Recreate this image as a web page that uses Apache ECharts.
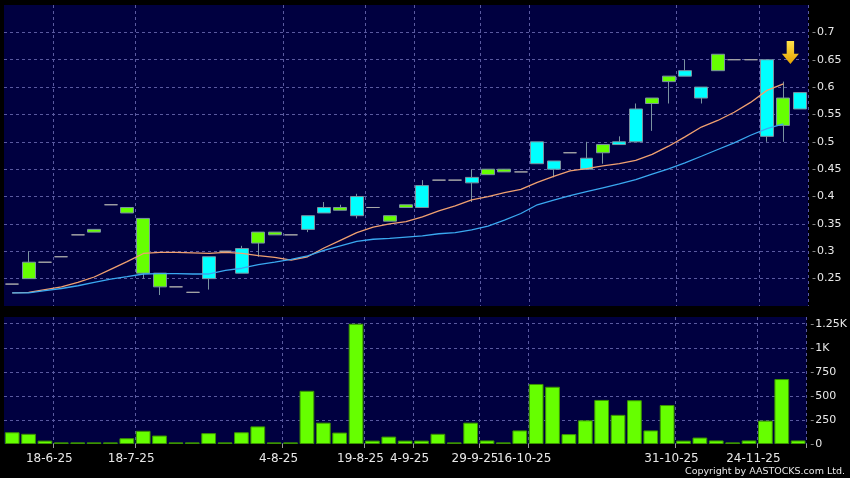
<!DOCTYPE html>
<html>
<head>
<meta charset="utf-8">
<script src="https://cdn.jsdelivr.net/npm/echarts@6/dist/echarts.min.js"></script>
<style>
html,body{margin:0;padding:0;background:#000;}
#chart{width:850px;height:478px;}
</style>
</head>
<body>
<div id="chart"></div>
<script>
// category labels (only some trading days are labelled)
const categories = ['', '', '', '18-6-25', '', '', '', '', '18-7-25', '',
  '', '', '', '', '', '', '', '4-8-25', '', '',
  '', '', '19-8-25', '', '', '4-9-25', '', '', '', '29-9-25',
  '', '', '16-10-25', '', '', '', '', '', '', '',
  '', '31-10-25', '', '', '', '', '24-11-25', '', ''];

const opens  = [0.24,0.28,0.28,0.29,0.33,0.34,0.385,0.38,0.36,0.26,
  0.235,0.225,0.25,0.30,0.26,0.335,0.335,0.33,0.34,0.37,
  0.38,0.365,0.38,0.365,0.385,0.38,0.43,0.43,0.425,0.45,
  0.45,0.445,0.46,0.45,0.48,0.45,0.495,0.495,0.50,0.58,
  0.62,0.62,0.58,0.66,0.65,0.65,0.51,0.58,0.56];
const closes = [0.24,0.25,0.28,0.29,0.33,0.335,0.385,0.37,0.26,0.235,
  0.235,0.225,0.29,0.30,0.305,0.315,0.33,0.33,0.365,0.38,
  0.375,0.40,0.38,0.355,0.38,0.42,0.43,0.43,0.435,0.44,
  0.445,0.445,0.50,0.465,0.48,0.47,0.48,0.50,0.56,0.57,
  0.61,0.63,0.60,0.63,0.65,0.65,0.65,0.53,0.59];
const lows   = [0.24,0.25,0.28,0.29,0.33,0.335,0.385,0.37,0.25,0.22,
  0.235,0.225,0.23,0.30,0.26,0.29,0.33,0.33,0.335,0.37,
  0.375,0.36,0.38,0.355,0.38,0.38,0.43,0.43,0.39,0.44,
  0.445,0.445,0.46,0.435,0.48,0.45,0.46,0.495,0.50,0.52,
  0.57,0.62,0.57,0.63,0.65,0.65,0.50,0.50,0.56];
const highs  = [0.24,0.30,0.28,0.29,0.33,0.34,0.385,0.38,0.36,0.26,
  0.235,0.225,0.29,0.30,0.31,0.335,0.335,0.33,0.365,0.39,
  0.385,0.405,0.38,0.365,0.385,0.43,0.43,0.43,0.45,0.45,
  0.45,0.445,0.50,0.465,0.48,0.50,0.495,0.51,0.57,0.58,
  0.62,0.65,0.60,0.66,0.65,0.65,0.65,0.61,0.59];

const maOrange = [0.224,0.225,0.23,0.235,0.243,0.253,0.267,0.281,0.296,0.298,
  0.298,0.297,0.296,0.298,0.296,0.292,0.289,0.284,0.290,0.306,
  0.320,0.334,0.344,0.350,0.354,0.363,0.374,0.383,0.394,0.400,
  0.407,0.413,0.426,0.437,0.447,0.451,0.456,0.460,0.466,0.477,
  0.492,0.509,0.527,0.539,0.554,0.572,0.594,0.606,null];
const maBlue = [0.224,0.224,0.228,0.232,0.237,0.243,0.249,0.2535,0.2585,0.259,
  0.259,0.2585,0.2585,0.265,0.269,0.2755,0.280,0.285,0.2915,0.3015,
  0.310,0.318,0.322,0.3235,0.326,0.328,0.332,0.334,0.339,0.346,
  0.357,0.369,0.385,0.3936,0.4015,0.409,0.416,0.423,0.431,0.441,
  0.4506,0.4615,0.4736,0.486,0.498,0.512,0.524,0.533,null];

const volumes = [122,106,35,17,17,17,17,60,137,88,
  17,17,113,17,122,183,17,17,553,222,
  119,1250,35,77,35,35,106,17,222,37,
  17,141,624,595,103,246,458,303,455,141,
  405,35,67,37,17,37,243,675,37];

const priceTicks = [0.25,0.3,0.35,0.4,0.45,0.5,0.55,0.6,0.65,0.7];
const priceTickLabels = ['0.25','0.3','0.35','0.4','0.45','0.5','0.55','0.6','0.65','0.7'];
const volTicks = [0,250,500,750,1000,1250];
const volTickLabels = ['0','250','500','750','1K','1.25K'];

const arrowMark = { index: 47, value: 0.663 };

const candleData = opens.map((o, i) => [o, closes[i], lows[i], highs[i]]);
const showCat = (idx, val) => categories[idx] !== undefined && categories[idx] !== '';
const gridColor = '#5a5aa0';
const priceSplitColors = ['transparent'].concat(priceTicks.map(() => gridColor), ['transparent']);
const volSplitColors = volTicks.map((v, i) => i === 0 ? 'transparent' : gridColor).concat(['transparent']);

function tickLabel(ticks, labels) {
  return function (v) {
    for (let i = 0; i < ticks.length; i++) {
      if (Math.abs(ticks[i] - v) < 1e-6) return '{t|-}' + labels[i];
    }
    return '';
  };
}

const chart = echarts.init(document.getElementById('chart'), null, { renderer: 'canvas' });
chart.setOption({
  animation: false,
  backgroundColor: '#000000',
  grid: [
    { left: 4, right: 42, top: 5, height: 301, show: true, backgroundColor: '#000040', borderWidth: 0 },
    { left: 4, right: 42, top: 317, height: 127, show: true, backgroundColor: '#000040', borderWidth: 0 }
  ],
  xAxis: [
    {
      gridIndex: 0, type: 'category', data: categories, boundaryGap: true,
      axisLine: { show: false }, axisTick: { show: false }, axisLabel: { show: false },
      splitLine: { show: true, interval: showCat, lineStyle: { color: gridColor, type: [3, 3], width: 1 } }
    },
    {
      gridIndex: 1, type: 'category', data: categories, boundaryGap: true, offset: 2,
      axisLine: { show: false },
      axisTick: { show: true, interval: showCat, length: 4, lineStyle: { color: '#9a9a9a' } },
      axisLabel: { show: true, interval: showCat, color: '#e8e8e8', fontSize: 12, fontFamily: 'DejaVu Sans', margin: 7, padding: [0, 24, 0, 0] },
      splitLine: { show: true, interval: showCat, lineStyle: { color: gridColor, type: [3, 3], width: 1 } }
    }
  ],
  yAxis: [
    {
      gridIndex: 0, type: 'value', position: 'right', min: 0.2, max: 0.75, interval: 0.05,
      axisLine: { show: false }, axisTick: { show: false },
      axisLabel: {
        formatter: tickLabel(priceTicks, priceTickLabels), color: '#e8e8e8', fontSize: 11,
        fontFamily: 'DejaVu Sans', margin: 4,
        rich: { t: { color: '#9a9a9a', fontSize: 11, fontFamily: 'DejaVu Sans', padding: [0, 1, 0, 0] } }
      },
      splitLine: { show: true, lineStyle: { color: priceSplitColors, type: [3, 3], width: 1 } }
    },
    {
      gridIndex: 1, type: 'value', position: 'right', min: 0, max: 1320, interval: 250,
      axisLine: { show: false }, axisTick: { show: false },
      axisLabel: {
        formatter: tickLabel(volTicks, volTickLabels), color: '#e8e8e8', fontSize: 11,
        fontFamily: 'DejaVu Sans', margin: 4,
        rich: { t: { color: '#9a9a9a', fontSize: 11, fontFamily: 'DejaVu Sans', padding: [0, 1, 0, 0] } }
      },
      splitLine: { show: true, lineStyle: { color: volSplitColors, type: [3, 3], width: 1 } }
    }
  ],
  series: [
    {
      type: 'candlestick', xAxisIndex: 0, yAxisIndex: 0, data: candleData, barWidth: '82%', z: 2,
      itemStyle: {
        color: '#00ffff', color0: '#66ff00',
        borderColor: '#7a93a0', borderColor0: '#7a93a0', borderColorDoji: '#a8a8a8', borderWidth: 1
      },
      markPoint: {
        silent: true,
        symbol: 'path://M4.5,0 L11.5,0 L11.5,12 L16,12 L8,22 L0,12 L4.5,12 Z',
        symbolSize: [17, 23], symbolOffset: [7, 0], symbolKeepAspect: false,
        label: { show: false },
        itemStyle: {
          color: new echarts.graphic.LinearGradient(0, 0, 0, 1, [
            { offset: 0, color: '#ffe24a' }, { offset: 1, color: '#e6a200' }
          ])
        },
        data: [{ coord: [arrowMark.index, arrowMark.value] }]
      }
    },
    {
      type: 'line', xAxisIndex: 0, yAxisIndex: 0, data: maOrange, showSymbol: false, symbol: 'none', z: 3,
      lineStyle: { color: '#f0a070', width: 1.3 }
    },
    {
      type: 'line', xAxisIndex: 0, yAxisIndex: 0, data: maBlue, showSymbol: false, symbol: 'none', z: 3,
      lineStyle: { color: '#3aa8f0', width: 1.3 }
    },
    {
      type: 'bar', xAxisIndex: 1, yAxisIndex: 1, data: volumes, barWidth: '90%',
      itemStyle: { color: '#66ff00', borderColor: '#3c9400', borderWidth: 1 }
    }
  ],
  graphic: [
    {
      type: 'text', right: 5, bottom: 1,
      style: { text: 'Copyright by AASTOCKS.com Ltd.', fill: '#e8e8e8', font: '9.5px "DejaVu Sans"' }
    }
  ]
});
</script>
</body>
</html>
